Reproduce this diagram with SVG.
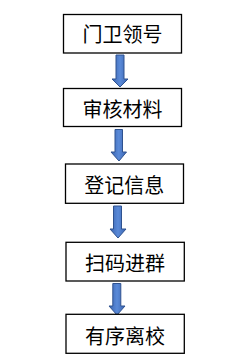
<svg xmlns="http://www.w3.org/2000/svg" width="250" height="355" viewBox="0 0 250 355">
<style>
.box{fill:#fff;stroke:#000;stroke-width:1.3}
.t{font-family:"Noto Sans CJK SC","Noto Sans",sans-serif;font-size:20px;fill:#000;text-anchor:middle}
.arr{fill:url(#g);stroke:#2F528F;stroke-width:1}
</style>
<defs>
<linearGradient id="g" x1="0" y1="0" x2="1" y2="0">
<stop offset="0" stop-color="#3A64B0"/>
<stop offset="0.5" stop-color="#5A8AD8"/>
<stop offset="1" stop-color="#3A64B0"/>
</linearGradient>
</defs>
<rect width="250" height="355" fill="#fff"/>
<g id="connectors">
<path class="arr" d="M116,55 H124 V79 H128 L120,87 L112,79 H116 Z"/>
<path class="arr" d="M115,129.5 H122.5 V152 H126.5 L119,161 L111,152 H115 Z"/>
<path class="arr" d="M113.5,206 H121.5 V229 H126 L118,238 L110,229 H113.5 Z"/>
<path class="arr" d="M112.8,283.5 H120.8 V306 H125 L117,315 L109,306 H112.8 Z"/>
</g>
<g id="n1"><rect class="box" x="63.5" y="14.5" width="118" height="38.5"/><text class="t" x="122.5" y="42">门卫领号</text></g>
<g id="n2"><rect class="box" x="63.5" y="88.5" width="118" height="38"/><text class="t" x="122.5" y="116.5">审核材料</text></g>
<g id="n3"><rect class="box" x="65.5" y="164" width="118" height="39.3"/><text class="t" x="124.3" y="192.5">登记信息</text></g>
<g id="n4"><rect class="box" x="66" y="242.3" width="118.3" height="38.7"/><text class="t" x="125" y="270.8">扫码进群</text></g>
<g id="n5"><rect class="box" x="66" y="314.3" width="118.3" height="39"/><text class="t" x="125" y="344">有序离校</text></g>
</svg>
